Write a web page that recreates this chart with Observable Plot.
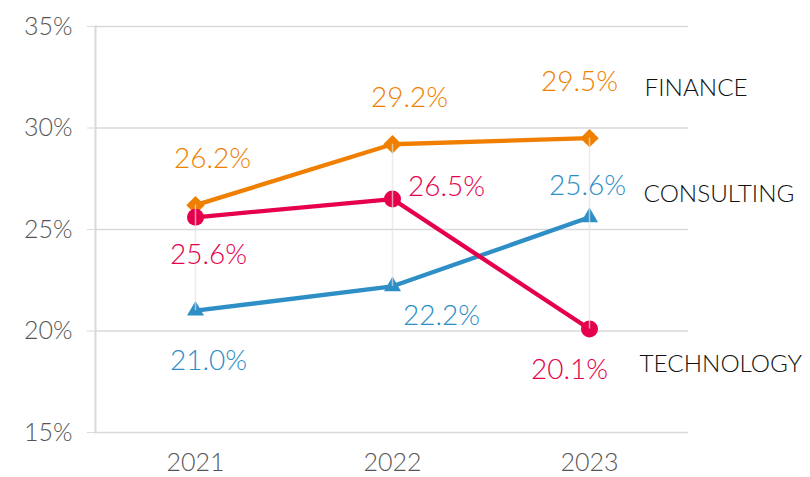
<!DOCTYPE html>
<html>
<head>
<meta charset="utf-8">
<script src="https://cdn.jsdelivr.net/npm/d3@7"></script>
<script src="https://cdn.jsdelivr.net/npm/@observablehq/plot@0.6"></script>
<style>
  html, body { margin: 0; padding: 0; background: #fff; }
  #chart svg { display: block; }
</style>
</head>
<body>
<div id="chart"></div>
<script>
const years = ["2021", "2022", "2023"];
const seriesNames = ["FINANCE", "CONSULTING", "TECHNOLOGY"];
const finance = [26.2, 29.2, 29.5];
const consulting = [21.0, 22.2, 25.6];
const technology = [25.6, 26.5, 20.1];
const yTicks = [15, 20, 25, 30, 35];

const seriesValues = {FINANCE: finance, CONSULTING: consulting, TECHNOLOGY: technology};
const styles = {
  FINANCE: {color: "#F07F00", symbol: "diamond2", r: 8.3, nameDy: -50, nameDx: 55,
            offsets: [[17, -46], [17, -46], [-10, -56]]},
  CONSULTING: {color: "#2E8EC6", symbol: "triangle2", r: 8.1, nameDy: -23, nameDx: 54,
            offsets: [[13, 50], [49, 30], [-2, -31]]},
  TECHNOLOGY: {color: "#E6004C", symbol: "circle", r: 8.5, nameDy: 35, nameDx: 50,
            offsets: [[13, 38], [54, -12], [-20, 41]]}
};

const rows = [];
for (const s of seriesNames) {
  seriesValues[s].forEach((v, i) => rows.push({series: s, year: years[i], value: v}));
}
const ranges = years.map((y, i) => {
  const vals = seriesNames.map(s => seriesValues[s][i]);
  return {year: y, lo: d3.min(vals), hi: d3.max(vals)};
});

const font = "Lato, 'Noto Sans', sans-serif";
const marks = [
  Plot.ruleY(yTicks, {stroke: "#d9d9d9", strokeWidth: 1.5}),
  Plot.frame({anchor: "left", stroke: "#d9d9d9", strokeWidth: 2}),
  Plot.axisY({ticks: yTicks, tickFormat: d => d + "%", tickSize: 8, tickPadding: 15,
              fontSize: 25, fontWeight: 300, stroke: "#d9d9d9", fill: "#555555", label: null}),
  Plot.axisX({tickSize: 0, tickPadding: 21, fontSize: 25, fontWeight: 300, fill: "#555555", label: null})
];
for (const s of seriesNames) {
  const st = styles[s];
  const data = rows.filter(d => d.series === s);
  marks.push(Plot.line(data, {x: "year", y: "value", stroke: st.color, strokeWidth: 4.3}));
  marks.push(Plot.dot(data, {x: "year", y: "value", fill: st.color, stroke: "none",
                             symbol: () => st.symbol, r: st.r}));
}
marks.push(Plot.ruleX(ranges, {x: "year", y1: "lo", y2: "hi", stroke: "#e3e3e3",
                               strokeOpacity: 0.7, strokeWidth: 1.5}));
for (const s of seriesNames) {
  const st = styles[s];
  const data = rows.filter(d => d.series === s);
  data.forEach((d, i) => {
    marks.push(Plot.text([d], {x: "year", y: "value", text: d => d.value.toFixed(1) + "%",
      fill: st.color, fontSize: 28, fontWeight: 300, dx: st.offsets[i][0], dy: st.offsets[i][1]}));
  });
  marks.push(Plot.text([data[data.length - 1]], {x: "year", y: "value", text: () => s,
    fill: "#111111", fontSize: 24.3, fontWeight: 300, textAnchor: "start", dx: st.nameDx, dy: st.nameDy}));
}

const chart = Plot.plot({
  width: 810,
  height: 477,
  marginLeft: 95,
  marginRight: 122,
  marginTop: 26,
  marginBottom: 45,
  style: {fontFamily: font, background: "#fff", overflow: "visible"},
  x: {type: "point", domain: years, padding: 0.5},
  y: {domain: [15, 35]},
  marks
});
document.getElementById("chart").append(chart);
</script>
</body>
</html>
